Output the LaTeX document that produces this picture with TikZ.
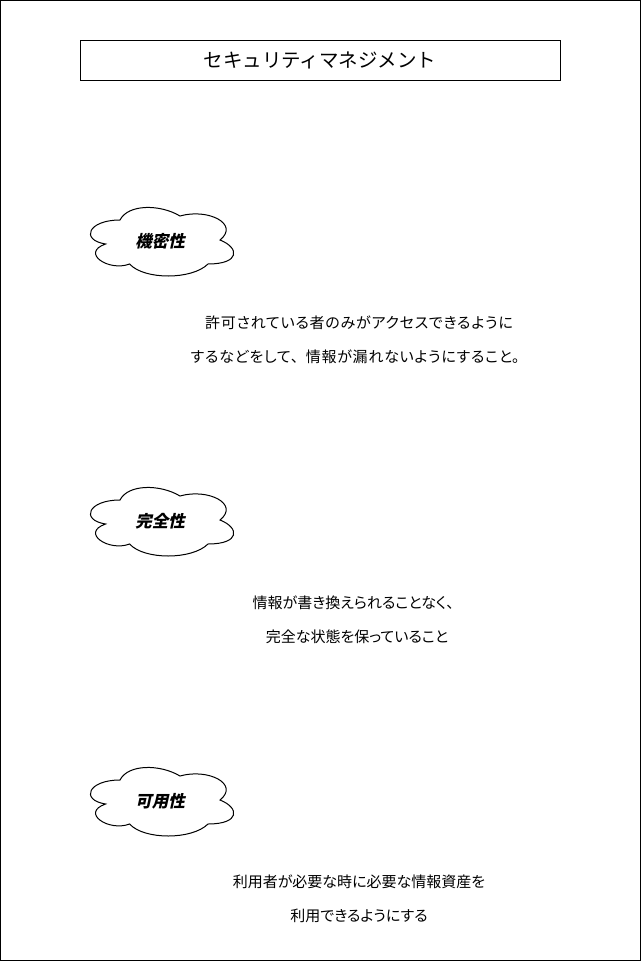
\documentclass[tikz,border=0pt]{standalone}
\usepackage{fontspec}
\newfontfamily\jp[RawFeature=+palt]{Noto Sans CJK JP}
\newfontfamily\jpls[RawFeature=+palt,LetterSpace=5]{Noto Sans CJK JP}
\newfontfamily\jpn{Noto Sans CJK JP}
\newfontfamily\jpbi[FakeSlant=0.22]{Noto Sans CJK JP}
\newcommand\fw[1]{{\jpn #1}}
\begin{document}
\begin{tikzpicture}[x=1pt,y=-1pt,
  line width=1pt,
  titlebox/.style={draw,minimum width=480pt,minimum height=40pt,inner sep=0pt,font=\jpn\fontsize{19.5}{23}\selectfont},
  cloudtext/.style={inner sep=0pt,font=\jpbi\bfseries\fontsize{16.5}{19}\selectfont},
  desc/.style={inner sep=0pt,align=center,font=\jp\fontsize{15}{34}\selectfont},
  descw/.style={desc,font=\jpls\fontsize{15}{34}\selectfont},
  cloudline/.style={draw,line width=1pt}]
\useasboundingbox (0,0) rectangle (641,961);
\draw (0.5,0.5) rectangle (640.5,960.5);
\node[titlebox] (title) at (320,60) {セキュリティマネジメント};
\foreach \yy in {200,480,760}{
  \begin{scope}[shift={(80,\yy)},xscale=160,yscale=80]
    \draw[cloudline] (0.25,0.25) .. controls (0.05,0.25) and (0,0.5) .. (0.16,0.55)
      .. controls (0,0.66) and (0.18,0.9) .. (0.31,0.8)
      .. controls (0.4,1) and (0.7,1) .. (0.8,0.8)
      .. controls (1,0.8) and (1,0.6) .. (0.875,0.5)
      .. controls (1,0.3) and (0.8,0.1) .. (0.625,0.2)
      .. controls (0.5,0.05) and (0.3,0.05) .. (0.25,0.25) -- cycle;
  \end{scope}
}
\node[cloudtext] (c1) at (160,241) {機密性};
\node[cloudtext] (c2) at (160,521) {完全性};
\node[cloudtext] (c3) at (160,801) {可用性};
\node[descw] (d1) at (359,340) {許可されている者のみがアクセスできるように\\するなどをして\fw{、}情報が漏れないようにすること\fw{。}};
\node[desc] (d2) at (357,620) {情報が書き換えられることなく\fw{、}\\完全な状態を保っていること};
\node[desc] (d3) at (359,899) {利用者が必要な時に必要な情報資産を\\利用できるようにする};
\end{tikzpicture}
\end{document}
